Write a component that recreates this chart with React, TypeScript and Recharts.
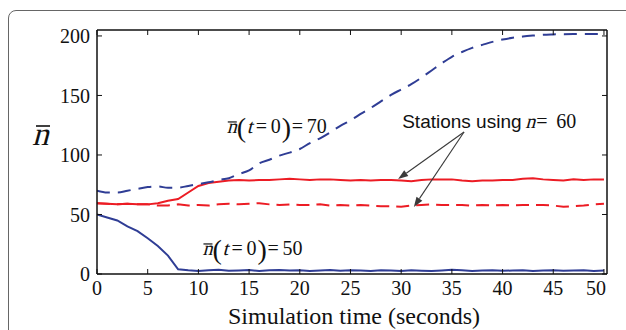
import React from "react";
import { LineChart, Line, XAxis, YAxis, ReferenceDot, ReferenceLine } from "recharts";

const time = [0,1,2,3,4,5,6,7,8,9,10,11,12,13,14,15,16,17,18,19,20,21,22,23,24,25,26,27,28,29,30,31,32,33,34,35,36,37,38,39,40,41,42,43,44,45,46,47,48,49,50];

const blueDashed = [70,68.5,68.5,70,71.5,73,73.5,72.5,72.5,74,75.5,77,79,80.5,84,87,93,96,99.5,102,105,110,114,119,124.5,129,134.5,139.5,145,150.5,155,159.5,165,171,177,182.5,186.5,190,192.5,195,197,198.5,199.5,200.3,201,201.3,201.5,201.6,201.7,201.7,201.8];

const blueSolid = [50,47.5,45,40,36,30,23.5,15.5,4,3.2,2.6,3.1,3.6,2.7,3.0,3.3,2.5,3.1,3.4,2.9,3.2,2.6,3.0,3.3,2.7,3.1,2.9,2.6,3.2,3.0,2.5,3.1,2.8,2.6,3.0,3.5,3.1,2.6,3.0,3.2,2.7,2.9,3.1,2.6,3.0,3.2,2.7,3.0,3.1,2.6,3.0];

const redSolid = [59.5,59,58.5,59,58.5,58.5,59.5,61.5,63,68.5,74,76.5,77.5,78.5,79,78.5,79,79,79.5,80,79.5,79,79.5,79.5,79,78.5,79,78.5,79,79,78.5,78,79,79.5,79.5,79.5,78.5,78,78.5,78.5,79,79,80,80.5,79.5,79,78.5,79.5,79,79.5,79.5];

const redDashed = [59.5,59,58.5,59,58.5,58.5,57.5,57.5,58.5,57.5,58,57.5,58.5,59,58.5,59,59.5,58.5,58,58.5,58,58,58.5,57.5,58,57.5,58,57.5,57,57,56.5,57.5,58,58.5,58,58,58,57.5,58,57.5,58,57.5,58,58,58,57.5,56.5,57,57.5,58.5,59];

const xTicks = [0,5,10,15,20,25,30,35,40,45,50];
const yTicks = [0,50,100,150,200];

const data = time.map((t, i) => ({
  t,
  blueDashed: blueDashed[i],
  blueSolid: blueSolid[i],
  redSolid: redSolid[i],
  redDashed: redDashed[i],
}));

const SERIF = "'Liberation Serif', 'Times New Roman', serif";
const SANS = "'Liberation Sans', Arial, sans-serif";
const BLUE = "#2f3d95";
const RED = "#ec1c24";
const ARROW = "#3a3a3a";
const INK = "#111";

// Slanted serif glyph (synthetic italic on the regular serif face)
const Ital = ({ x, y, size, children }: any) => (
  <text
    x={0}
    y={0}
    transform={`translate(${x},${y}) skewX(-15)`}
    fontFamily={SERIF}
    fontSize={size}
    fill={INK}
  >
    {children}
  </text>
);

const Plain = ({ x, y, size, children, family }: any) => (
  <text x={x} y={y} fontFamily={family || SERIF} fontSize={size} fill={INK}>
    {children}
  </text>
);

const BottomTick = (props: any) => {
  const { x, y, payload } = props;
  const dx = payload.value === 50 ? -8 : 0;
  return (
    <text x={x + dx} y={y} dy="0.71em" textAnchor="middle" fontFamily={SERIF} fontSize={20} fill={INK}>
      {payload.value}
    </text>
  );
};

const LeftTick = (props: any) => {
  const { x, y, payload } = props;
  return (
    <text x={x} y={y} dy="0.355em" textAnchor="end" fontFamily={SERIF} fontSize={20} fill={INK}>
      {payload.value}
    </text>
  );
};

const makeNLabel = (value: string) => (props: any) => {
  const { cx, cy } = props;
  return (
    <g>
      <line x1={cx + 1} x2={cx + 10} y1={cy - 11} y2={cy - 11} stroke={INK} strokeWidth={1.2} />
      <Ital x={cx} y={cy} size={20}>n</Ital>
      <Plain x={cx + 10} y={cy + 4} size={28}>(</Plain>
      <Ital x={cx + 20} y={cy} size={20}>t</Ital>
      <Plain x={cx + 29} y={cy} size={20}>=</Plain>
      <Plain x={cx + 44} y={cy} size={20}>0</Plain>
      <Plain x={cx + 55} y={cy + 4} size={28}>)</Plain>
      <Plain x={cx + 65} y={cy} size={20}>=</Plain>
      <Plain x={cx + 80} y={cy} size={20}>{value}</Plain>
    </g>
  );
};

const StationsLabel = (props: any) => {
  const { cx, cy } = props;
  return (
    <g>
      <Plain x={cx} y={cy} size={19} family={SANS}>Stations using</Plain>
      <Ital x={cx + 123} y={cy} size={20}>n</Ital>
      <Plain x={cx + 134} y={cy} size={20}>=</Plain>
      <Plain x={cx + 154} y={cy} size={20}>60</Plain>
    </g>
  );
};

const ArrowShape = (props: any) => {
  const { x1, y1, x2, y2 } = props;
  const ang = Math.atan2(y2 - y1, x2 - x1);
  const L = 10;
  const W = 3.5;
  const bx = x2 - L * Math.cos(ang);
  const by = y2 - L * Math.sin(ang);
  const px = -Math.sin(ang) * W;
  const py = Math.cos(ang) * W;
  return (
    <g>
      <line x1={x1} y1={y1} x2={bx} y2={by} stroke={ARROW} strokeWidth={1.1} />
      <polygon points={`${x2},${y2} ${bx + px},${by + py} ${bx - px},${by - py}`} fill={ARROW} />
    </g>
  );
};

const YTitle = () => (
  <g>
    <line x1={36} x2={50} y1={126} y2={126} stroke={INK} strokeWidth={1.6} />
    <Ital x={32} y={145} size={33}>n</Ital>
  </g>
);

const XTitle = () => (
  <text x={354} y={324} textAnchor="middle" fontFamily={SERIF} fontSize={24} fill={INK}>
    Simulation time (seconds)
  </text>
);

export default function App() {
  return (
    <div style={{ position: "fixed", left: 0, top: 0, width: 626, height: 330, overflow: "hidden", background: "#fff" }}>
      <div
        style={{
          position: "absolute",
          left: 8,
          top: 10,
          width: 700,
          height: 400,
          border: "1px solid #666",
          borderRadius: 8,
          boxSizing: "border-box",
        }}
      />
      <div style={{ position: "absolute", left: 0, top: 0 }}>
        <LineChart width={626} height={330} data={data} margin={{ top: 29, right: 18, bottom: 0, left: 37 }}>
          <XAxis
            dataKey="t"
            type="number"
            domain={[0, 50.3]}
            ticks={xTicks}
            allowDataOverflow
            height={56}
            tickSize={-5}
            tickMargin={12}
            tick={<BottomTick />}
            axisLine={{ stroke: INK, strokeWidth: 1.5 }}
            tickLine={{ stroke: INK }}
            label={{ content: () => <XTitle /> }}
          />
          <XAxis
            xAxisId="top"
            orientation="top"
            dataKey="t"
            type="number"
            domain={[0, 50.3]}
            ticks={xTicks}
            allowDataOverflow
            height={1}
            tickSize={-5}
            tickFormatter={() => ""}
            axisLine={{ stroke: INK, strokeWidth: 1.5 }}
            tickLine={{ stroke: INK }}
          />
          <YAxis
            type="number"
            domain={[0, 205]}
            ticks={yTicks}
            allowDataOverflow
            width={60}
            tickSize={-5}
            tickMargin={12}
            tick={<LeftTick />}
            axisLine={{ stroke: INK, strokeWidth: 1.5 }}
            tickLine={{ stroke: INK }}
            label={{ content: () => <YTitle /> }}
          />
          <YAxis
            yAxisId="right"
            orientation="right"
            type="number"
            domain={[0, 205]}
            ticks={yTicks}
            allowDataOverflow
            width={1}
            tickSize={-5}
            tickFormatter={() => ""}
            axisLine={{ stroke: INK, strokeWidth: 1.5 }}
            tickLine={{ stroke: INK }}
          />
          <Line dataKey="redDashed" stroke={RED} strokeWidth={2} strokeDasharray="13 7" dot={false} type="linear" isAnimationActive={false} />
          <Line dataKey="redSolid" stroke={RED} strokeWidth={2} dot={false} type="linear" isAnimationActive={false} />
          <Line dataKey="blueSolid" stroke={BLUE} strokeWidth={2} dot={false} type="linear" isAnimationActive={false} />
          <Line dataKey="blueDashed" stroke={BLUE} strokeWidth={2} strokeDasharray="13 8" dot={false} type="monotone" isAnimationActive={false} />
          <ReferenceLine segment={[{ x: 36.2, y: 119.3 }, { x: 29.7, y: 79.8 }]} shape={ArrowShape} />
          <ReferenceLine segment={[{ x: 36.2, y: 119.3 }, { x: 31.25, y: 56.3 }]} shape={ArrowShape} />
          <ReferenceDot x={12.8} y={118.5} r={0} shape={makeNLabel("70")} />
          <ReferenceDot x={10.4} y={16} r={0} shape={makeNLabel("50")} />
          <ReferenceDot x={30.1} y={123} r={0} shape={StationsLabel} />
        </LineChart>
      </div>
    </div>
  );
}
